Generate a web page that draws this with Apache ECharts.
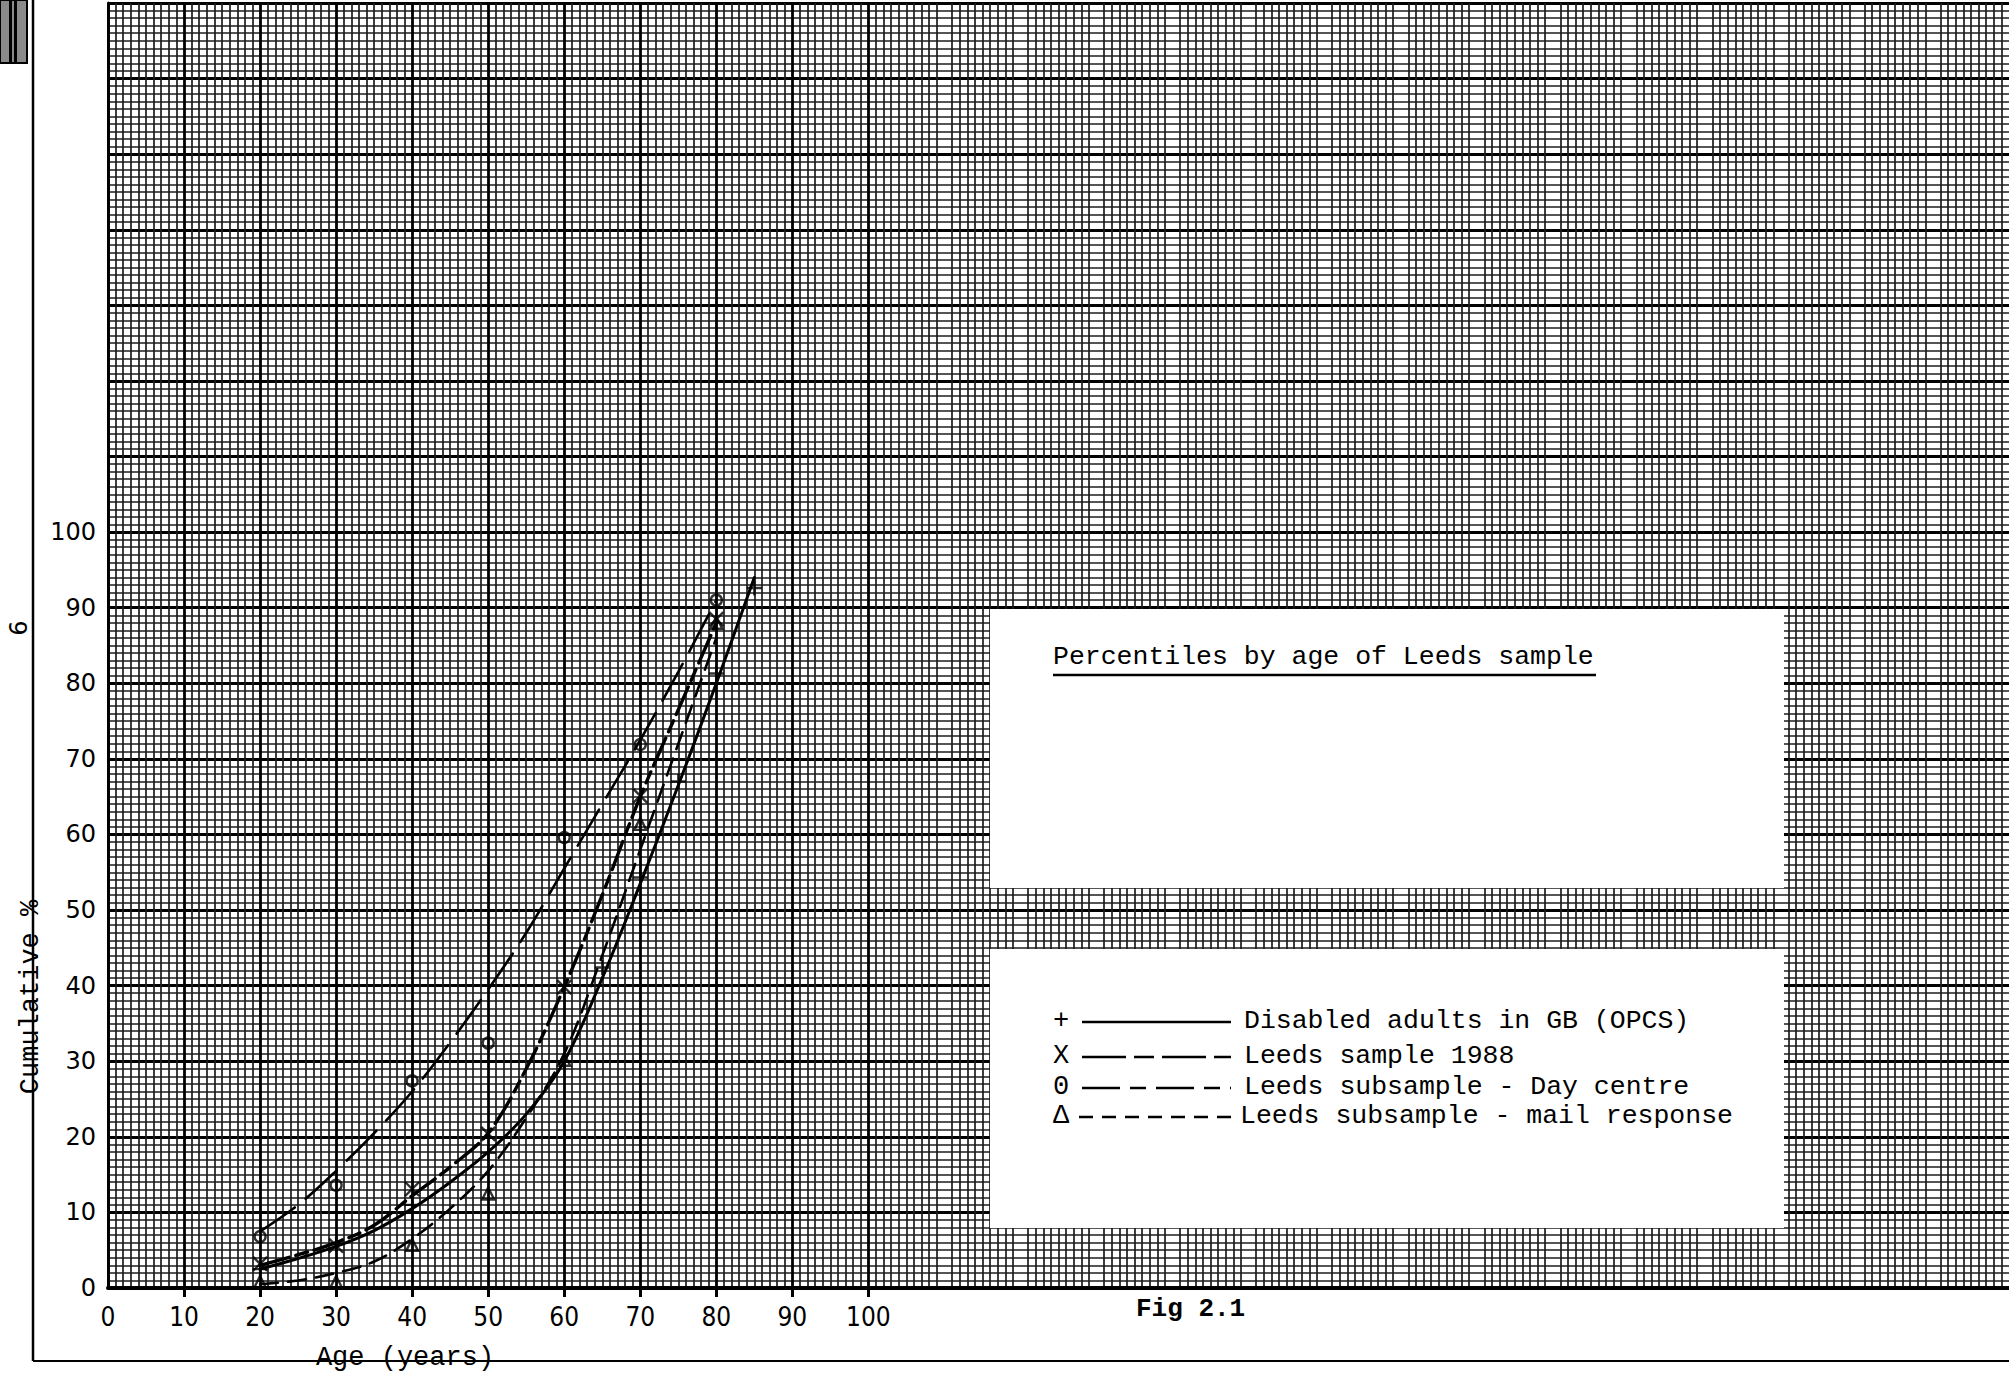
<!DOCTYPE html>
<html>
<head>
<meta charset="utf-8">
<script src="https://cdn.jsdelivr.net/npm/echarts@6/dist/echarts.min.js"></script>
<style>
  html, body { margin: 0; padding: 0; background: #fff; }
  #chart { width: 2009px; height: 1375px; }
</style>
</head>
<body>
<div id="chart"></div>
<script>
// Axis labels
const ageTickLabels = [0, 10, 20, 30, 40, 50, 60, 70, 80, 90, 100];
const ageTickMarks = [10, 20, 30, 40, 50, 60, 70, 80, 90, 100];
const pctTickLabels = [0, 10, 20, 30, 40, 50, 60, 70, 80, 90, 100];

// Plotted points: cumulative % by age
const opcsAges = [20, 30, 40, 50, 60, 65, 70, 75, 80, 85];
const opcsPct = [2.5, 5.8, 11, 17.9, 30, 42.4, 54.3, 67, 81.3, 92.6];
const leedsAges = [20, 30, 40, 50, 60, 70, 80];
const leedsPct = [3.2, 5.6, 13.1, 20.4, 39.8, 65.1, 88.5];
const dayCentreAges = [20, 30, 40, 50, 60, 70, 80];
const dayCentrePct = [6.8, 13.6, 27.4, 32.4, 59.6, 71.9, 91.0];
const mailAges = [20, 30, 40, 50, 60, 70, 80];
const mailPct = [0.8, 0.8, 5.7, 12.5, 30.2, 61.4, 88];

// Freehand fitted curves, read every five years
const curveAges = [20, 25, 30, 35, 40, 45, 50, 55, 60, 65, 70, 75, 80];
const opcsCurveAges = [20, 25, 30, 35, 40, 45, 50, 55, 60, 65, 70, 75, 80, 85];
const opcsCurve = [2.5, 3.9, 5.5, 7.6, 10.5, 14, 18, 23, 30, 41, 53.5, 66.5, 80, 94];
const leedsCurve = [3, 4.4, 6, 8.3, 12.2, 16, 20.5, 29, 39.8, 52, 65, 76.5, 88];
const dayCentreCurve = [7.5, 11, 15.5, 20.5, 26, 32.5, 39.5, 47, 55.5, 64, 72.5, 81.5, 91];
const mailCurve = [0.5, 1, 2, 3.5, 6.5, 10.5, 15.5, 22.5, 31, 44, 58, 72, 86];

// Key text
const keyTitle = 'Percentiles by age of Leeds sample';
const keySymbols = ['+', 'X', '0', '\u0394'];
const keyLabels = [
  'Disabled adults in GB (OPCS)',
  'Leeds sample 1988',
  'Leeds subsample - Day centre',
  'Leeds subsample - mail response'
];

const zip = (xs, ys) => xs.map((x, i) => [x, ys[i]]);

const INK = '#000';
const MONO = '"Liberation Mono", "DejaVu Sans Mono", monospace';
const PLUS = 'path://M5,0L5,10M0,5L10,5';
const CROSS = 'path://M0,0L10,10M10,0L0,10';

const curveSeries = (name, ages, vals, width, dash) => ({
  type: 'line', name, data: zip(ages, vals), smooth: 0.35,
  showSymbol: false, silent: true, z: 5,
  lineStyle: { color: INK, width, type: dash || 'solid', cap: 'round' }
});
const markSeries = (name, ages, vals, symbol, size) => ({
  type: 'scatter', name, data: zip(ages, vals), symbol, symbolSize: size,
  silent: true, z: 6,
  itemStyle: { color: 'rgba(0,0,0,0)', borderColor: INK, borderWidth: 2.4 }
});

// Key rows
const keyX = 1053, keyLineX1 = 1082, keyLineX2 = 1231, keyTextX = 1244;
const keyRowsY = [1021, 1056, 1087, 1116];
const keyDashes = [null, [44, 8, 20, 8], [38, 10, 16, 10], [14, 9]];
const keyGraphics = [];
keyRowsY.forEach((y, i) => {
  keyGraphics.push({
    type: 'text', x: keyX, y: y, z: 101,
    style: { text: keySymbols[i], font: '27px ' + MONO, fill: INK, textAlign: 'left', textVerticalAlign: 'middle' }
  });
  keyGraphics.push({
    type: 'line', z: 101,
    shape: { x1: i === 3 ? 1079 : keyLineX1, y1: y + 1, x2: keyLineX2, y2: y + 1 },
    style: { stroke: INK, lineWidth: 2.4, lineDash: keyDashes[i] || null }
  });
  keyGraphics.push({
    type: 'text', x: i === 3 ? 1240 : keyTextX, y: y, z: 101,
    style: { text: keyLabels[i], font: '26.5px ' + MONO, fill: INK, textAlign: 'left', textVerticalAlign: 'middle' }
  });
});

const chart = echarts.init(document.getElementById('chart'), null, { renderer: 'svg' });

chart.setOption({
  animation: false,
  backgroundColor: '#fff',
  grid: { left: 108, right: 0, top: 3, bottom: 87, containLabel: false, outerBoundsMode: 'none' },
  xAxis: {
    type: 'value', min: 0, max: 250, interval: 10,
    axisLine: { show: true, onZero: false, lineStyle: { color: INK, width: 4 } },
    axisTick: { show: true, customValues: ageTickMarks, length: 9, inside: false, lineStyle: { color: INK, width: 3 } },
    axisLabel: {
      customValues: ageTickLabels, margin: 16, color: INK,
      fontFamily: '"DejaVu Sans Condensed", "Liberation Sans Narrow", "DejaVu Sans", sans-serif',
      fontSize: 26
    },
    splitLine: { show: true, lineStyle: { color: INK, width: 2.8 } },
    minorTick: { show: false, splitNumber: 10 },
    minorSplitLine: { show: true, lineStyle: { color: '#1c1c1c', width: 1.7 } }
  },
  yAxis: {
    type: 'value', min: 0, max: 170, interval: 10,
    axisLine: { show: true, onZero: false, lineStyle: { color: INK, width: 3 } },
    axisTick: { show: false },
    axisLabel: {
      customValues: pctTickLabels, margin: 12, color: INK,
      fontFamily: '"DejaVu Sans", sans-serif', fontSize: 24
    },
    splitLine: { show: true, lineStyle: { color: INK, width: 2.8 } },
    minorTick: { show: false, splitNumber: 10 },
    minorSplitLine: { show: true, lineStyle: { color: '#1c1c1c', width: 1.7 } }
  },
  series: [
    curveSeries('Disabled adults in GB (OPCS)', opcsCurveAges, opcsCurve, 3, 'solid'),
    curveSeries('Leeds sample 1988', curveAges, leedsCurve, 3.4, [30, 7, 12, 7]),
    curveSeries('Leeds subsample - Day centre', curveAges, dayCentreCurve, 2.6, [42, 14]),
    curveSeries('Leeds subsample - mail response', curveAges, mailCurve, 2.6, [18, 10]),
    markSeries('OPCS points', opcsAges, opcsPct, PLUS, 15),
    markSeries('Leeds 1988 points', leedsAges, leedsPct, CROSS, 14),
    markSeries('Day centre points', dayCentreAges, dayCentrePct, 'circle', 11),
    markSeries('Mail response points', mailAges, mailPct, 'triangle', 12)
  ],
  graphic: [
    // page frame
    { type: 'line', z: 50, shape: { x1: 33, y1: 0, x2: 33, y2: 1361 }, style: { stroke: INK, lineWidth: 2.5 } },
    { type: 'line', z: 50, shape: { x1: 33, y1: 1361, x2: 2009, y2: 1361 }, style: { stroke: INK, lineWidth: 2.2 } },
    // corner stamp
    { type: 'rect', z: 50, shape: { x: 0, y: 0, width: 27, height: 63 }, style: { fill: '#8a8a8a', stroke: INK, lineWidth: 2 } },
    { type: 'rect', z: 51, shape: { x: 9, y: 0, width: 3, height: 63 }, style: { fill: INK } },
    { type: 'rect', z: 51, shape: { x: 14, y: 0, width: 3, height: 63 }, style: { fill: INK } },
    // axis titles, page number, figure number
    { type: 'text', z: 60, x: 405, y: 1358,
      style: { text: 'Age (years)', font: '27px ' + MONO, fill: INK, textAlign: 'center', textVerticalAlign: 'middle' } },
    { type: 'text', z: 60, x: 31, y: 997, rotation: Math.PI / 2,
      style: { text: 'Cumulative %', font: '27px ' + MONO, fill: INK, textAlign: 'center', textVerticalAlign: 'middle' } },
    { type: 'text', z: 60, x: 19, y: 628, rotation: Math.PI / 2,
      style: { text: '6', font: '24px "DejaVu Sans", sans-serif', fill: INK, textAlign: 'center', textVerticalAlign: 'middle' } },
    { type: 'text', z: 60, x: 1136, y: 1309,
      style: { text: 'Fig 2.1', font: 'bold 26px ' + MONO, fill: INK, textAlign: 'left', textVerticalAlign: 'middle' } },
    // key boxes
    { type: 'rect', z: 100, shape: { x: 990, y: 609, width: 794, height: 279 }, style: { fill: '#fff' } },
    { type: 'rect', z: 100, shape: { x: 990, y: 949, width: 794, height: 279 }, style: { fill: '#fff' } },
    { type: 'text', z: 101, x: 1053, y: 657,
      style: { text: keyTitle, font: '26.5px ' + MONO, fill: INK, textAlign: 'left', textVerticalAlign: 'middle' } },
    { type: 'line', z: 101, shape: { x1: 1053, y1: 675, x2: 1596, y2: 675 }, style: { stroke: INK, lineWidth: 2.6 } },
    ...keyGraphics
  ]
});
</script>
</body>
</html>
